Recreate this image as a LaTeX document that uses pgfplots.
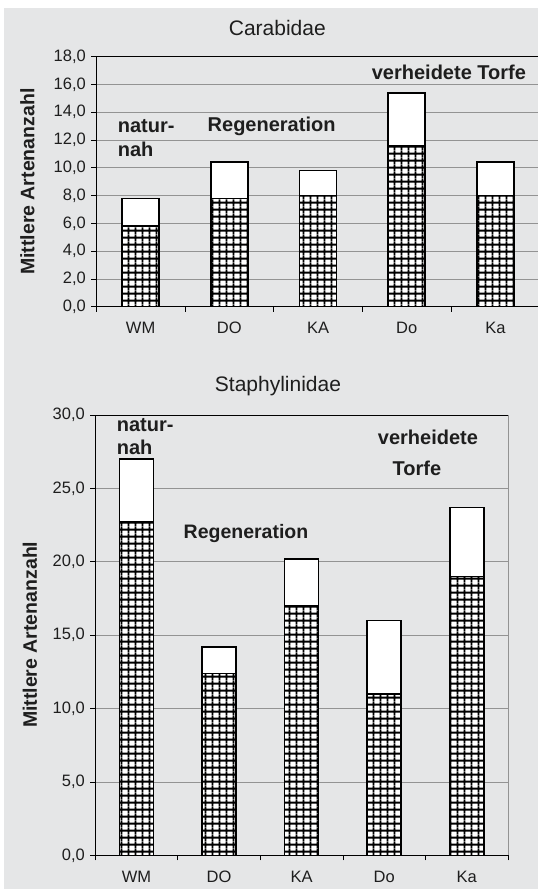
\documentclass[border=0pt]{standalone}
\usepackage{fontspec}
\setmainfont{Liberation Sans}
\usepackage{pgfplots}
\pgfplotsset{compat=1.18}
\usetikzlibrary{patterns}
\definecolor{bg}{RGB}{229,230,231}
\definecolor{txt}{RGB}{30,30,30}
\pgfdeclarepatternformonly{biggrid}{\pgfqpoint{0pt}{0pt}}{\pgfqpoint{7.4pt}{6.8pt}}{\pgfqpoint{7.4pt}{6.8pt}}{%
  \pgfsetlinewidth{2pt}%
  \pgfpathmoveto{\pgfqpoint{0pt}{3.4pt}}\pgfpathlineto{\pgfqpoint{7.4pt}{3.4pt}}%
  \pgfpathmoveto{\pgfqpoint{3.7pt}{0pt}}\pgfpathlineto{\pgfqpoint{3.7pt}{6.8pt}}%
  \pgfusepath{stroke}}
\pgfplotsset{
  panel/.style={
    scale only axis, ybar stacked,
    xmin=-0.5, xmax=4.5, ymin=0,
    xtick={-0.5,0.5,1.5,2.5,3.5,4.5},
    xticklabels={WM,DO,KA,Do,Ka},
    x tick label as interval=true,
    tick align=outside, major tick length=5pt,
    xtick pos=bottom, ytick pos=left,
    ymajorgrids, grid style={gray!85, line width=0.8pt},
    axis line style={black, line width=0.9pt},
    tick style={black, line width=0.8pt},
    ticklabel style={font=\fontsize{16.5}{18}\selectfont, text=txt},
    xticklabel style={yshift=-7pt},
    yticklabel style={xshift=-2pt},
    /pgf/number format/.cd, fixed, fixed zerofill, precision=1, use comma, assume math mode=true,
  },
  lowbar/.style={draw=black, line width=1.6pt, preaction={fill=white}, pattern=biggrid, pattern color=black},
  highbar/.style={draw=black, line width=1.6pt, fill=white},
}
\begin{document}
\begin{tikzpicture}
\useasboundingbox (0pt,0pt) rectangle (538pt,889pt);
\fill[bg] (4pt,0pt) rectangle (538pt,881pt);

% ---------- Carabidae ----------
\begin{axis}[panel, at={(96.3pt,582.3pt)}, anchor=south west,
  width=443.5pt, height=250pt, ymax=18, ytick={0,2,...,18}, bar width=37pt]
\addplot[lowbar] coordinates {(0,5.8) (1,7.8) (2,8.0) (3,11.6) (4,8.0)};
\addplot[highbar] coordinates {(0,2.0) (1,2.6) (2,1.8) (3,3.8) (4,2.4)};
\end{axis}
\node[font=\fontsize{21}{24}\selectfont, text=txt] at (277.3pt,861.3pt) {Carabidae};
\node[rotate=90, font=\fontsize{19.5}{22}\selectfont\bfseries, text=txt] at (27.5pt,707.3pt) {Mittlere Artenanzahl};
\node[anchor=west, inner sep=0pt, font=\fontsize{20}{22}\selectfont\bfseries, text=txt] at (117.7pt,763pt) {natur-};
\node[anchor=west, inner sep=0pt, font=\fontsize{20}{22}\selectfont\bfseries, text=txt] at (117.7pt,740pt) {nah};
\node[font=\fontsize{20}{22}\selectfont\bfseries, text=txt] at (271.6pt,763pt) {Regeneration};
\node[font=\fontsize{20}{22}\selectfont\bfseries, text=txt] at (448.9pt,816.7pt) {verheidete Torfe};

% ---------- Staphylinidae ----------
\begin{axis}[panel, at={(95.3pt,33.7pt)}, anchor=south west,
  width=412.7pt, height=440.3pt, ymax=30, ytick={0,5,...,30}, bar width=34pt]
\addplot[lowbar] coordinates {(0,22.7) (1,12.4) (2,17.0) (3,11.0) (4,19.0)};
\addplot[highbar] coordinates {(0,4.3) (1,1.8) (2,3.2) (3,5.0) (4,4.7)};
\end{axis}
\draw[gray!85, line width=0.9pt] (508pt,33.7pt) -- (508pt,474pt);
\node[font=\fontsize{21}{24}\selectfont, text=txt] at (278pt,503pt) {Staphylinidae};
\node[rotate=90, font=\fontsize{19.5}{22}\selectfont\bfseries, text=txt] at (30pt,254.2pt) {Mittlere Artenanzahl};
\node[anchor=west, inner sep=0pt, font=\fontsize{20}{22}\selectfont\bfseries, text=txt] at (116.7pt,464pt) {natur-};
\node[anchor=west, inner sep=0pt, font=\fontsize{20}{22}\selectfont\bfseries, text=txt] at (116.7pt,441.2pt) {nah};
\node[font=\fontsize{20}{22}\selectfont\bfseries, text=txt] at (428pt,451.2pt) {verheidete};
\node[font=\fontsize{20}{22}\selectfont\bfseries, text=txt] at (417pt,420.5pt) {Torfe};
\node[font=\fontsize{19.5}{22}\selectfont\bfseries, text=txt] at (246pt,355pt) {Regeneration};
\end{tikzpicture}
\end{document}
